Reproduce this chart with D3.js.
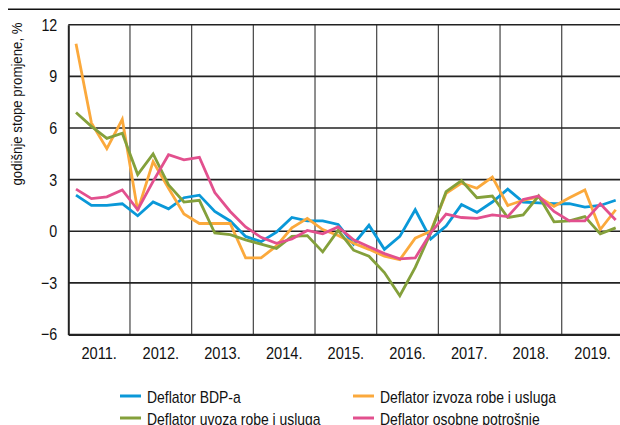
<!DOCTYPE html>
<html>
<head>
<meta charset="utf-8">
<script src="https://cdn.jsdelivr.net/npm/d3@7"></script>
<style>
  body { margin: 0; background: #fff; }
  svg { display: block; font-family: "Liberation Sans", Arial, sans-serif; }
</style>
</head>
<body>
<svg id="chart" width="620" height="425"></svg>
<script>
// kvartali 2011.Q1 - 2019.Q4
const years = ['2011.', '2012.', '2013.', '2014.', '2015.', '2016.', '2017.', '2018.', '2019.'];
const yTicks = [-6, -3, 0, 3, 6, 9, 12];

const bdp = [2.1, 1.5, 1.5, 1.6, 0.9, 1.7, 1.3, 1.95, 2.1, 1.15, 0.6, -0.3, -0.6, -0.05, 0.8, 0.6,
  0.6, 0.4, -0.75, 0.35, -1.05, -0.3, 1.25, -0.45, 0.3, 1.55, 1.1, 1.7, 2.45, 1.7, 1.65, 1.6,
  1.6, 1.4, 1.5, 1.8];
const izvoz = [10.9, 6.3, 4.8, 6.5, 1.2, 4.05, 2.5, 1.0, 0.45, 0.45, 0.45, -1.55, -1.55, -0.85, 0.2, 0.75,
  0.1, -0.25, -0.7, -1.05, -1.45, -1.65, -0.4, 0.0, 2.2, 2.8, 2.5, 3.15, 1.5, 1.8, 2.0, 1.45,
  1.95, 2.4, 0.1, 1.25];
const uvoz = [6.9, 6.1, 5.4, 5.7, 3.3, 4.5, 2.7, 1.7, 1.8, -0.1, -0.2, -0.5, -0.75, -1.0, -0.3, -0.25,
  -1.2, 0.05, -1.1, -1.45, -2.4, -3.75, -2.1, -0.1, 2.3, 2.95, 1.95, 2.05, 0.8, 0.95, 2.05, 0.55,
  0.6, 0.85, -0.15, 0.2];
const potrosnja = [2.45, 1.9, 2.0, 2.4, 1.25, 2.9, 4.45, 4.15, 4.3, 2.25, 1.15, 0.25, -0.35, -0.7, -0.45, 0.05,
  -0.15, 0.25, -0.5, -0.9, -1.3, -1.6, -1.55, -0.1, 1.0, 0.8, 0.75, 0.95, 0.85, 1.85, 2.05, 1.15,
  0.6, 0.6, 1.6, 0.65];

const series = [
  { name: 'Deflator BDP-a', values: bdp, color: '#0a98d8' },
  { name: 'Deflator izvoza robe i usluga', values: izvoz, color: '#fba93c' },
  { name: 'Deflator uvoza robe i usluga', values: uvoz, color: '#84a03b' },
  { name: 'Deflator osobne potrošnje', values: potrosnja, color: '#e2508e' }
];

const svg = d3.select('#chart');
const plotLeft = 68.3, plotRight = 623.4, plotTop = 24.8, plotBottom = 334.5;

const xYear = d3.scaleBand().domain(years).range([plotLeft, plotRight]);
const xq = d3.scaleLinear().domain([0, years.length * 4]).range([plotLeft, plotRight]);
const y = d3.scaleLinear().domain([-6, 12]).range([plotBottom, plotTop]);

// uski font nije dostupan, pa se tekst stisne
function squeeze(sel, k) {
  sel.each(function() {
    const w = this.getComputedTextLength();
    d3.select(this).attr('textLength', w * k).attr('lengthAdjust', 'spacingAndGlyphs');
  });
}

// gornja crta
svg.append('line')
  .attr('x1', 8).attr('x2', 620).attr('y1', 9.3).attr('y2', 9.3)
  .attr('stroke', '#111').attr('stroke-width', 1.5);

// mreza
svg.append('g').selectAll('line')
  .data(years.slice(1))
  .join('line')
  .attr('x1', d => xYear(d)).attr('x2', d => xYear(d))
  .attr('y1', plotTop).attr('y2', plotBottom)
  .attr('stroke', '#444').attr('stroke-width', 1.2);

svg.append('g').selectAll('line')
  .data(yTicks)
  .join('line')
  .attr('x1', plotLeft).attr('x2', plotRight)
  .attr('y1', d => y(d)).attr('y2', d => y(d))
  .attr('stroke', '#222').attr('stroke-width', 1.6);

// osi
const yAxis = svg.append('g')
  .attr('transform', `translate(${plotLeft},0)`)
  .call(d3.axisLeft(y).tickValues(yTicks).tickSize(0).tickPadding(11)
    .tickFormat(d => d < 0 ? '\u2212' + Math.abs(d) : d));
yAxis.select('.domain').attr('stroke', '#222').attr('stroke-width', 2);
yAxis.selectAll('text').attr('font-size', 17).attr('fill', '#111')
  .attr('font-family', '"Liberation Sans", Arial, sans-serif');
squeeze(yAxis.selectAll('text'), 0.84);

const xAxis = svg.append('g')
  .attr('transform', `translate(0,${plotBottom})`)
  .call(d3.axisBottom(xYear).tickSize(0).tickPadding(12));
xAxis.select('.domain').attr('stroke', '#222').attr('stroke-width', 2);
xAxis.selectAll('text').attr('font-size', 17).attr('fill', '#111')
  .attr('font-family', '"Liberation Sans", Arial, sans-serif');
squeeze(xAxis.selectAll('text'), 0.86);

// linije
const line = d3.line()
  .x((d, i) => xq(i + 0.5))
  .y(d => y(d));

svg.append('g').selectAll('path')
  .data(series)
  .join('path')
  .attr('d', d => line(d.values))
  .attr('fill', 'none')
  .attr('stroke', d => d.color)
  .attr('stroke-width', 2.8)
  .attr('stroke-linejoin', 'miter');

// naslov osi
svg.append('text')
  .attr('transform', 'translate(22,104) rotate(-90)')
  .attr('text-anchor', 'middle')
  .attr('font-size', 15)
  .attr('fill', '#111')
  .attr('textLength', 163)
  .attr('lengthAdjust', 'spacingAndGlyphs')
  .text('godišnje stope promjene, %');

// legenda
const legend = svg.append('g').selectAll('g')
  .data(series)
  .join('g')
  .attr('transform', (d, i) => `translate(${i % 2 === 0 ? 120 : 353},${396 + Math.floor(i / 2) * 22})`);
legend.append('line')
  .attr('x1', 0).attr('x2', 21)
  .attr('stroke', d => d.color).attr('stroke-width', 3);
const legendText = legend.append('text')
  .attr('x', 27).attr('y', 6.5)
  .attr('font-size', 17).attr('fill', '#111')
  .text(d => d.name);
squeeze(legendText, 0.82);
</script>
</body>
</html>
